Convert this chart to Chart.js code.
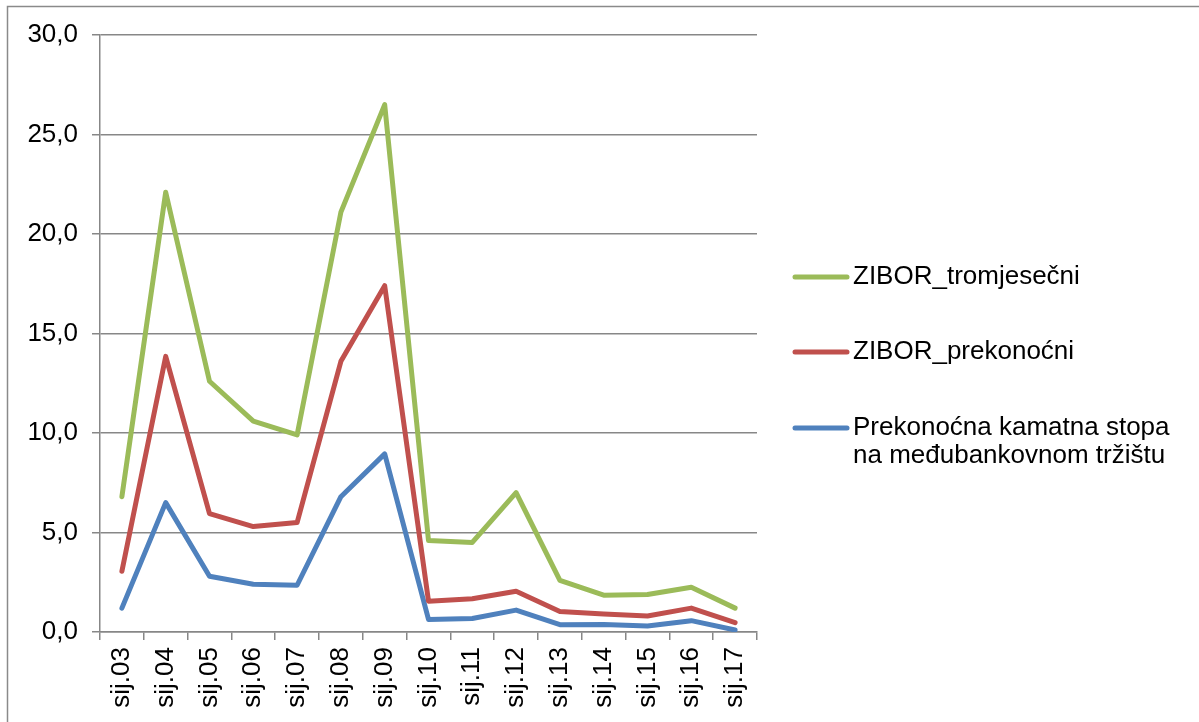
<!DOCTYPE html>
<html>
<head>
<meta charset="utf-8">
<script src="https://cdn.jsdelivr.net/npm/chart.js@4/dist/chart.umd.min.js"></script>
<style>
  html, body { margin: 0; padding: 0; background: #fff; }
  #wrap { width: 1199px; height: 722px; position: relative; }
</style>
</head>
<body>
<div id="wrap"><canvas id="ratesChart" width="1199" height="722"></canvas></div>
<script>
const categories = ['sij.03', 'sij.04', 'sij.05', 'sij.06', 'sij.07', 'sij.08', 'sij.09', 'sij.10',
  'sij.11', 'sij.12', 'sij.13', 'sij.14', 'sij.15', 'sij.16', 'sij.17'];

const tromjesecni = [6.8, 22.1, 12.6, 10.6, 9.9, 21.1, 26.5, 4.6, 4.5, 7.0, 2.6, 1.85, 1.88, 2.25, 1.2];
const prekonocni = [3.05, 13.85, 5.95, 5.3, 5.5, 13.6, 17.4, 1.55, 1.67, 2.05, 1.03, 0.9, 0.8, 1.2, 0.47];
const medjubankovna = [1.2, 6.5, 2.8, 2.4, 2.35, 6.8, 8.95, 0.63, 0.68, 1.1, 0.37, 0.38, 0.3, 0.57, 0.1];

const seriesNames = ['ZIBOR_tromjesečni', 'ZIBOR_prekonoćni', 'Prekonoćna kamatna stopa na međubankovnom tržištu'];
const seriesColors = ['#9BBB59', '#C0504D', '#4F81BD'];

const FONT = "'Liberation Sans', Arial, sans-serif";
const GRID = '#878787';

// right side legend drawn by hand (Excel style, wrapped text)
const sideLegend = {
  id: 'sideLegend',
  afterDraw(chart) {
    const ctx = chart.ctx;
    ctx.save();
    ctx.font = '26px ' + FONT;
    ctx.fillStyle = '#000';
    ctx.textBaseline = 'middle';
    ctx.textAlign = 'left';
    const rows = [277, 352, 428];
    seriesNames.forEach((name, i) => {
      const y = rows[i];
      ctx.strokeStyle = seriesColors[i];
      ctx.lineWidth = 5;
      ctx.lineCap = 'round';
      ctx.beginPath();
      ctx.moveTo(795, y);
      ctx.lineTo(847, y);
      ctx.stroke();
      // wrap words
      const words = name.split(' ');
      let line = '';
      let ly = y;
      words.forEach(w => {
        const test = line ? line + ' ' + w : w;
        if (ctx.measureText(test).width > 330 && line) {
          ctx.fillText(line, 853, ly);
          line = w;
          ly += 28;
        } else {
          line = test;
        }
      });
      ctx.fillText(line, 853, ly);
    });
    ctx.restore();
  }
};

const frame = {
  id: 'frame',
  beforeDraw(chart) {
    const ctx = chart.ctx;
    ctx.save();
    ctx.strokeStyle = '#8a8a8a';
    ctx.lineWidth = 1.5;
    ctx.beginPath();
    ctx.moveTo(7.5, 722);
    ctx.lineTo(7.5, 6.5);
    ctx.lineTo(1199, 6.5);
    ctx.stroke();
    ctx.restore();
  }
};

new Chart(document.getElementById('ratesChart'), {
  type: 'line',
  data: {
    labels: categories,
    datasets: [
      { label: seriesNames[0], data: tromjesecni, borderColor: seriesColors[0] },
      { label: seriesNames[1], data: prekonocni, borderColor: seriesColors[1] },
      { label: seriesNames[2], data: medjubankovna, borderColor: seriesColors[2] },
    ].map(d => Object.assign(d, {
      borderWidth: 5,
      pointRadius: 0,
      tension: 0,
      fill: false,
      borderJoinStyle: 'round',
      borderCapStyle: 'round',
    })),
  },
  options: {
    responsive: false,
    animation: false,
    layout: { padding: { left: 0, top: 35, right: 442, bottom: 0 } },
    plugins: {
      legend: { display: false },
      tooltip: { enabled: false },
    },
    scales: {
      x: {
        offset: true,
        afterFit: (scale) => { scale.height = 90; },
        grid: { display: true, drawOnChartArea: false, offset: true, tickLength: 8, color: GRID, lineWidth: 1.5 },
        border: { display: true, color: GRID, width: 1.5 },
        ticks: {
          minRotation: 90, maxRotation: 90, autoSkip: false, padding: 7,
          color: '#000', font: { family: FONT, size: 26 },
        },
      },
      y: {
        min: 0, max: 30,
        afterFit: (scale) => { scale.width = 100; },
        grid: { color: GRID, lineWidth: 1.5, tickLength: 8 },
        border: { display: true, color: GRID, width: 1.5 },
        ticks: {
          stepSize: 5, padding: 14, color: '#000',
          font: { family: FONT, size: 26 },
          callback: (v) => v.toFixed(1).replace('.', ','),
        },
      },
    },
  },
  plugins: [frame, sideLegend],
});
</script>
</body>
</html>
